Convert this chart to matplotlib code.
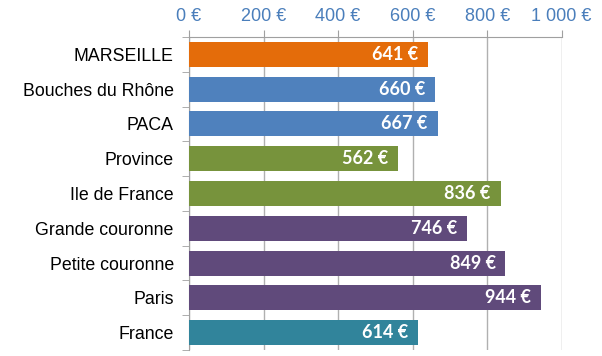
import numpy as np
import matplotlib
matplotlib.use('Agg')
from matplotlib import pyplot as plt
from matplotlib.ticker import FixedLocator

categories = ['MARSEILLE', 'Bouches du Rhône', 'PACA', 'Province', 'Ile de France',
              'Grande couronne', 'Petite couronne', 'Paris', 'France']
values = [641, 660, 667, 562, 836, 746, 849, 944, 614]
colors = ['#E46C0A', '#4F81BD', '#4F81BD', '#77933C', '#77933C',
          '#604A7B', '#604A7B', '#604A7B', '#31849B']
xticks = [0, 200, 400, 600, 800, 1000]
xlabels = ['0 €', '200 €', '400 €', '600 €', '800 €', '1 000 €']

fig = plt.figure(figsize=(6.02, 3.56), dpi=100)
ax = fig.add_axes([0.314, 0.017, 0.619, 0.879])

y = np.arange(len(categories))
ax.barh(y, values, height=0.72, color=colors, zorder=3)

for yi, v in zip(y, values):
    ax.annotate(f'{v} €', (v, yi), xytext=(-7, 0), textcoords='offset points',
                ha='right', va='center', color='white', fontweight='bold',
                fontsize=13, family=['Lato', 'DejaVu Sans'], zorder=4)

ax.set_xlim(0, 1000)
ax.set_ylim(len(categories) - 0.5, -0.5)
ax.xaxis.tick_top()
ax.set_xticks(xticks)
ax.set_xticklabels(xlabels, color='#4A7EBB', fontsize=13, family=['Liberation Sans', 'DejaVu Sans'])
ax.tick_params(axis='x', length=5, color='#A0A0A0', pad=4)
ax.grid(axis='x', color='#B0B0B0', linewidth=1, zorder=0)

ax.set_yticks(y)
ax.set_yticklabels(categories, fontsize=12.8, family=['Liberation Sans', 'DejaVu Sans'])
ax.tick_params(axis='y', which='major', length=0, pad=11)
ax.yaxis.set_minor_locator(FixedLocator(np.arange(-0.5, len(categories), 1)))
ax.tick_params(axis='y', which='minor', length=5, color='#A0A0A0')

for s in ['right', 'bottom']:
    ax.spines[s].set_visible(False)
ax.spines['top'].set_color('#A0A0A0')
ax.spines['left'].set_color('#A0A0A0')

fig.savefig('out.png', dpi=100)
